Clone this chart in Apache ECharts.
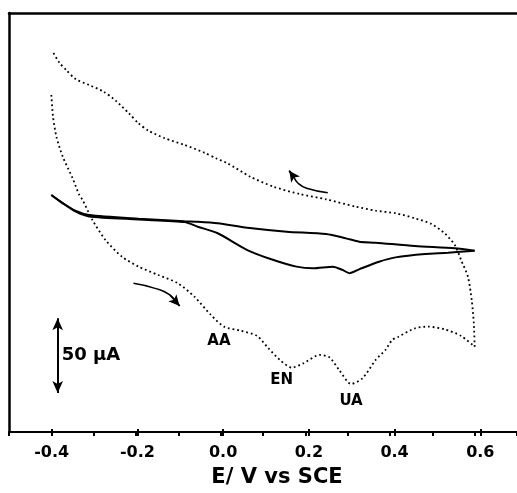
<!DOCTYPE html>
<html>
<head>
<meta charset="utf-8">
<script src="https://cdn.jsdelivr.net/npm/echarts@6/dist/echarts.min.js"></script>
<style>
  html, body { margin: 0; padding: 0; background: #fff; }
  #chart { width: 517px; height: 493px; }
</style>
</head>
<body>
<div id="chart"></div>
<script>
// Cyclic voltammograms: potential E (V vs SCE) and current I (µA, arbitrary offset)

// Sample solution (AA + EN + UA), anodic sweep -0.4 -> 0.6 V
const sampleFwdE = [-0.400,-0.396,-0.388,-0.373,-0.350,-0.334,-0.326,-0.303,-0.272,-0.233,-0.194,-0.147,-0.101,-0.062,-0.023,0.008,0.047,0.086,0.113,0.140,0.168,0.195,0.234,0.257,0.280,0.308,0.335,0.366,0.389,0.405,0.420,0.459,0.490,0.529,0.568,0.600];
const sampleFwdI = [45.2,30.7,17.3,4.0,-10.3,-21.6,-25.0,-38.3,-51.7,-62.9,-69.5,-75.1,-80.6,-89.6,-101.8,-109.6,-112.3,-115.8,-124.1,-131.9,-137.0,-134.1,-128.5,-130.1,-138.6,-147.9,-144.1,-131.9,-125.2,-118.5,-116.3,-110.7,-109.6,-111.4,-115.8,-123.0];

// Sample solution, return sweep 0.6 -> -0.4 V
const sampleRevE = [0.600,0.598,0.593,0.584,0.568,0.553,0.529,0.498,0.459,0.413,0.366,0.319,0.249,0.187,0.125,0.070,0.016,-0.011,-0.038,-0.085,-0.132,-0.171,-0.194,-0.217,-0.248,-0.276,-0.311,-0.342,-0.365,-0.381,-0.398];
const sampleRevI = [-123.0,-107.4,-91.8,-76.2,-65.1,-55.0,-47.2,-41.0,-37.2,-33.8,-32.1,-29.4,-24.5,-21.0,-16.1,-9.4,-0.4,2.9,6.6,11.8,16.3,21.4,26.3,33.0,41.4,47.4,51.9,55.7,61.9,66.8,74.8];

// Blank electrolyte, anodic sweep
const blankFwdE = [-0.400,-0.373,-0.342,-0.311,-0.194,-0.085,-0.054,-0.007,0.063,0.125,0.179,0.218,0.265,0.288,0.304,0.327,0.374,0.413,0.483,0.537,0.600];
const blankFwdI = [-21.6,-27.2,-32.8,-36.0,-38.0,-39.7,-42.8,-47.2,-58.4,-65.1,-69.5,-70.6,-69.5,-71.7,-73.9,-71.3,-66.2,-63.3,-61.0,-60.2,-58.8];

// Blank electrolyte, return sweep
const blankRevE = [0.600,0.553,0.459,0.366,0.327,0.296,0.249,0.156,0.063,-0.007,-0.054,-0.085,-0.194,-0.311,-0.342,-0.373,-0.400];
const blankRevI = [-58.8,-57.2,-55.7,-53.5,-52.8,-50.6,-47.7,-46.1,-43.5,-40.5,-39.5,-39.2,-37.5,-35.0,-32.3,-27.0,-21.6];

// Peak labels
const peakNames = ['AA', 'EN', 'UA'];
const peakE = [-0.004, 0.144, 0.308];
const peakI = [-119.2, -145.6, -159.3];

// Tick labels on the potential axis
const tickValues = [-0.4, -0.2, 0.0, 0.2, 0.4, 0.6];

// Current scale bar (50 µA)
const scaleBarE = -0.385;
const scaleBarI = [-154, -104];
const scaleBarText = '50 µA';

// Sweep-direction arrows, tail to tip
const returnArrowE = [0.253, 0.203, 0.183, 0.172, 0.162];
const returnArrowI = [-20.1, -17.1, -13.8, -9.4, -5.4];
const forwardArrowE = [-0.206, -0.155, -0.120, -0.097];
const forwardArrowI = [-80.6, -84.0, -88.4, -95.8];

const zip = (a, b) => a.map((v, i) => [v, b[i]]);

const FONT = 'DejaVu Sans';
const chart = echarts.init(document.getElementById('chart'), null, { renderer: 'canvas' });

const dotted = { color: '#000', width: 1.8, type: [1.8, 2.9], cap: 'butt' };
const solid = { color: '#000', width: 2 };

// curved arrow: smooth body plus an arrowhead on the last segment
function arrowSeries(E, I) {
  const n = E.length;
  return {
    type: 'line', xAxisIndex: 0, yAxisIndex: 0,
    data: zip(E, I), showSymbol: false, smooth: 0.5,
    lineStyle: { color: '#000', width: 1.5 },
    markLine: {
      silent: true, animation: false,
      symbol: ['none', 'arrow'], symbolSize: [8, 11],
      label: { show: false },
      lineStyle: { color: '#000', width: 1.5, type: 'solid' },
      itemStyle: { color: '#000' },
      data: [[{ coord: [E[n - 2], I[n - 2]] }, { coord: [E[n - 1], I[n - 1]] }]]
    }
  };
}

// text placed at a data coordinate
function textSeries(items, fontSize, position) {
  return {
    type: 'scatter', xAxisIndex: 0, yAxisIndex: 0,
    symbolSize: 0, itemStyle: { color: '#000', opacity: 1 },
    data: items,
    label: {
      show: true, position: position, distance: 4, formatter: p => p.name, opacity: 1,
      color: '#000', fontFamily: FONT, fontWeight: 'bold', fontSize: fontSize
    }
  };
}

chart.setOption({
  animation: false,
  backgroundColor: '#fff',
  grid: [
    { left: 9, top: 13, width: 514, height: 419 },
    { left: 51.7, top: 13, width: 428.6, height: 419 }
  ],
  xAxis: [
    {
      gridIndex: 0, type: 'value', position: 'bottom',
      min: -0.5, max: 0.7, interval: 0.1,
      axisLine: { show: true, onZero: false, lineStyle: { color: '#000', width: 2 } },
      axisTick: { show: true, inside: false, length: 4, lineStyle: { color: '#000', width: 2 } },
      axisLabel: { show: false },
      splitLine: { show: false }
    },
    {
      gridIndex: 0, type: 'value', position: 'top',
      min: -0.5, max: 0.7,
      axisLine: { show: true, onZero: false, lineStyle: { color: '#000', width: 2.5 } },
      axisTick: { show: false }, axisLabel: { show: false }, splitLine: { show: false }
    },
    {
      gridIndex: 1, type: 'value', position: 'bottom',
      min: -0.4, max: 0.6, interval: 0.2,
      axisLine: { show: false, onZero: false },
      axisTick: { show: true, inside: false, length: 7, lineStyle: { color: '#000', width: 2 } },
      axisLabel: {
        show: true, margin: 16, color: '#000', fontFamily: FONT, fontWeight: 'bold', fontSize: 16,
        formatter: v => (tickValues.some(t => Math.abs(t - v) < 1e-6) ? v.toFixed(1) : '')
      },
      splitLine: { show: false },
      name: 'E/ V vs SCE', nameLocation: 'middle', nameGap: 38,
      nameTextStyle: { color: '#000', fontFamily: FONT, fontWeight: 'bold', fontSize: 21, padding: [0, 0, 0, 22] }
    }
  ],
  yAxis: [
    {
      gridIndex: 0, type: 'value', min: -180, max: 100,
      axisLine: { show: true, onZero: false, lineStyle: { color: '#000', width: 2.5 } },
      axisTick: { show: false }, axisLabel: { show: false }, splitLine: { show: false }
    },
    { gridIndex: 1, type: 'value', min: -180, max: 100, show: false }
  ],
  series: [
    { type: 'line', xAxisIndex: 0, yAxisIndex: 0, data: zip(sampleFwdE, sampleFwdI),
      showSymbol: false, smooth: 0.25, lineStyle: dotted },
    { type: 'line', xAxisIndex: 0, yAxisIndex: 0, data: zip(sampleRevE, sampleRevI),
      showSymbol: false, smooth: 0.25, lineStyle: dotted },
    { type: 'line', xAxisIndex: 0, yAxisIndex: 0, data: zip(blankFwdE, blankFwdI),
      showSymbol: false, smooth: 0.25, lineStyle: solid },
    { type: 'line', xAxisIndex: 0, yAxisIndex: 0, data: zip(blankRevE, blankRevI),
      showSymbol: false, smooth: 0.25, lineStyle: solid },
    {
      // 50 µA scale bar
      type: 'line', xAxisIndex: 0, yAxisIndex: 0, data: [],
      markLine: {
        silent: true, animation: false,
        symbol: ['arrow', 'arrow'], symbolSize: [8, 12],
        label: { show: false },
        lineStyle: { color: '#000', width: 2, type: 'solid' },
        itemStyle: { color: '#000' },
        data: [[{ coord: [scaleBarE, scaleBarI[0]] }, { coord: [scaleBarE, scaleBarI[1]] }]]
      }
    },
    arrowSeries(returnArrowE, returnArrowI),
    arrowSeries(forwardArrowE, forwardArrowI),
    textSeries(peakNames.map((n, i) => ({ name: n, value: [peakE[i], peakI[i]] })), 15, 'inside'),
    textSeries([{ name: scaleBarText, value: [scaleBarE, (scaleBarI[0] + scaleBarI[1]) / 2] }], 18, 'right')
  ]
});
</script>
</body>
</html>
